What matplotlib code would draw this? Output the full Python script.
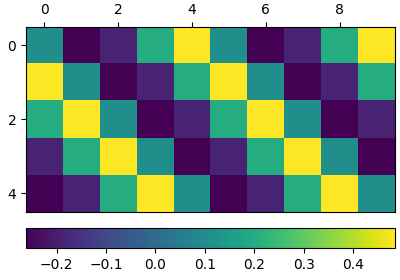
import matplotlib
matplotlib.use("Agg")
import matplotlib.pyplot as plt
import numpy as np

base_values = [0.11, -0.262, -0.19, 0.20, 0.485]
n_rows = 5
n_cols = 10

rows = []
for r in range(n_rows):
    row = [base_values[(c - r) % 5] for c in range(n_cols)]
    rows.append(row)
data = np.array(rows)

fig = plt.figure(figsize=(4, 2.8), dpi=100)
ax = fig.add_axes([0.065, 0.243, 0.9225, 0.661])
im = ax.matshow(data, cmap="viridis", aspect="auto")
ax.set_xticks([0, 2, 4, 6, 8])
ax.set_yticks([0, 2, 4])
ax.tick_params(axis="x", bottom=False)
cax = fig.add_axes([0.065, 0.115, 0.9225, 0.071])
fig.colorbar(im, cax=cax, orientation="horizontal")
fig.savefig("out.png", dpi=100)
